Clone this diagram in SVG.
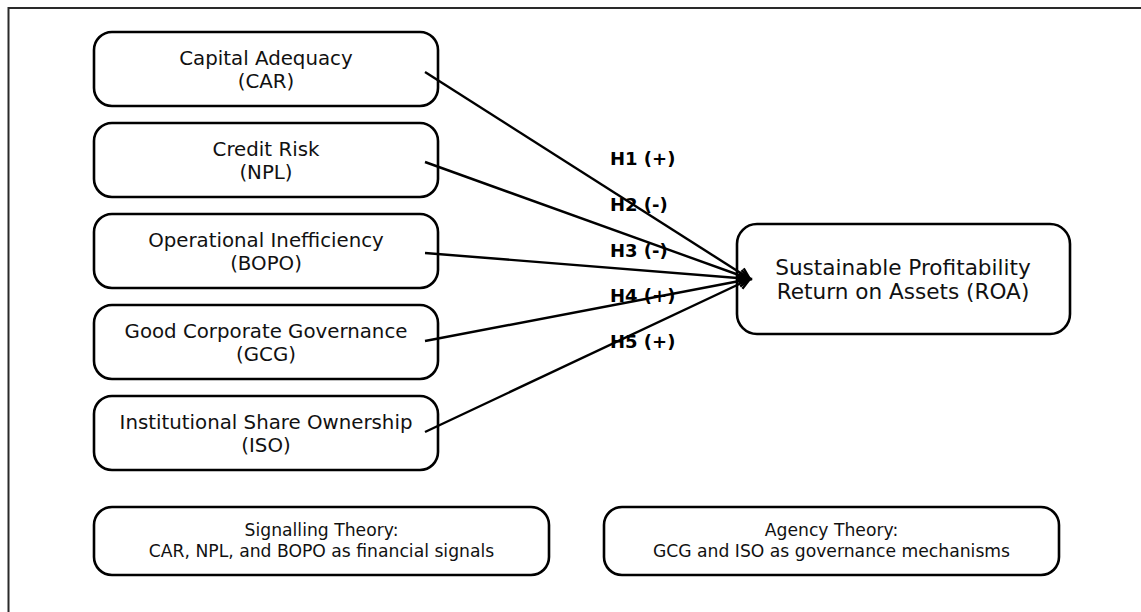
<svg xmlns="http://www.w3.org/2000/svg" width="1141" height="612" viewBox="0 0 1141 612">
<defs>
<marker id="ah" markerWidth="16" markerHeight="16" refX="13" refY="8" orient="auto" markerUnits="userSpaceOnUse">
<path d="M2,2.5 L13,8 L2,13.5" fill="none" stroke="#000" stroke-width="2.4"/>
</marker>
<style>
.box{fill:#fff;stroke:#000;stroke-width:2.6}
.t{font-family:"DejaVu Sans",sans-serif;font-size:19.8px;fill:#111;text-anchor:middle}
.tr{font-family:"DejaVu Sans",sans-serif;font-size:21.6px;fill:#111;text-anchor:middle}
.ts{font-family:"DejaVu Sans",sans-serif;font-size:17.2px;fill:#111;text-anchor:middle}
.lbl{font-family:"DejaVu Sans",sans-serif;font-size:18px;font-weight:bold;fill:#000}
.c{stroke:#000;stroke-width:2.4;fill:none;marker-end:url(#ah)}
</style>
</defs>
<rect width="1141" height="612" fill="#fff"/>
<path d="M8.5,612 V8 H1141" fill="none" stroke="#2a2a2a" stroke-width="2"/>
<g id="car"><rect class="box" x="94" y="32" width="344" height="74" rx="18"/><text class="t" x="266" y="65">Capital Adequacy</text><text class="t" x="266" y="88">(CAR)</text></g>
<g id="npl"><rect class="box" x="94" y="123" width="344" height="74" rx="18"/><text class="t" x="266" y="156">Credit Risk</text><text class="t" x="266" y="179">(NPL)</text></g>
<g id="bopo"><rect class="box" x="94" y="214" width="344" height="74" rx="18"/><text class="t" x="266" y="247">Operational Inefficiency</text><text class="t" x="266" y="270">(BOPO)</text></g>
<g id="gcg"><rect class="box" x="94" y="305" width="344" height="74" rx="18"/><text class="t" x="266" y="338">Good Corporate Governance</text><text class="t" x="266" y="361">(GCG)</text></g>
<g id="iso"><rect class="box" x="94" y="396" width="344" height="74" rx="18"/><text class="t" x="266" y="429">Institutional Share Ownership</text><text class="t" x="266" y="452">(ISO)</text></g>
<g id="roa"><rect class="box" x="737" y="224" width="333" height="110" rx="20"/><text class="tr" x="903" y="275">Sustainable Profitability</text><text class="tr" x="903" y="299">Return on Assets (ROA)</text></g>
<g id="signalling"><rect class="box" x="94" y="507" width="455" height="68" rx="18"/><text class="ts" x="321.5" y="536">Signalling Theory:</text><text class="ts" x="321.5" y="557">CAR, NPL, and BOPO as financial signals</text></g>
<g id="agency"><rect class="box" x="604" y="507" width="455" height="68" rx="18"/><text class="ts" x="831.5" y="536">Agency Theory:</text><text class="ts" x="831.5" y="557">GCG and ISO as governance mechanisms</text></g>
<g id="connectors">
<line class="c" x1="425" y1="72" x2="750" y2="279"/>
<line class="c" x1="425" y1="162" x2="750" y2="279"/>
<line class="c" x1="425" y1="253" x2="750" y2="279"/>
<line class="c" x1="425" y1="341" x2="750" y2="279"/>
<line class="c" x1="425" y1="432" x2="750" y2="279"/>
<text class="lbl" x="610" y="165">H1 (+)</text>
<text class="lbl" x="610" y="211">H2 (-)</text>
<text class="lbl" x="610" y="257">H3 (-)</text>
<text class="lbl" x="610" y="302">H4 (+)</text>
<text class="lbl" x="610" y="348">H5 (+)</text>
</g>
</svg>
